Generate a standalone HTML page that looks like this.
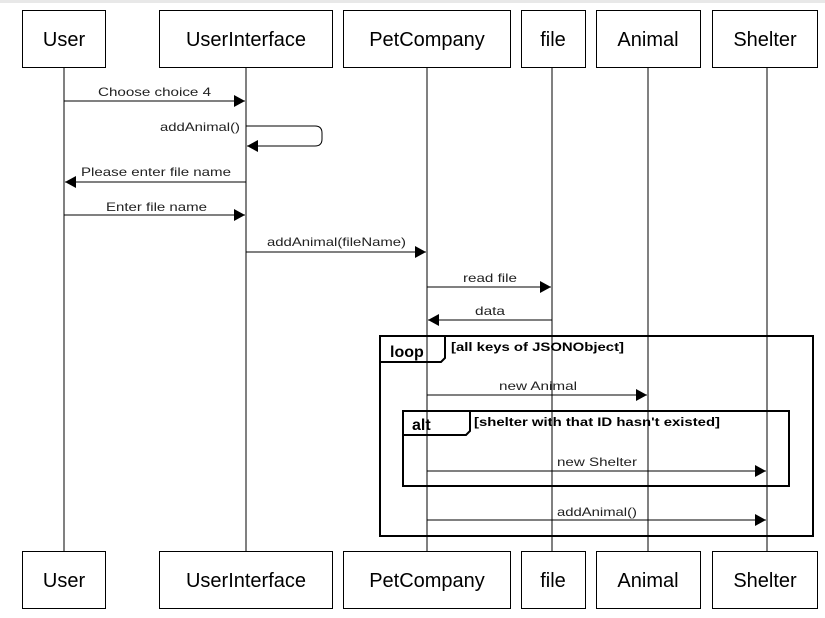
<!DOCTYPE html>
<html><head><style>
body{margin:0;background:#fff;}
svg{display:block;font-family:"Liberation Sans",sans-serif;}
</style></head><body>
<svg width="825" height="618" viewBox="0 0 825 618" xmlns="http://www.w3.org/2000/svg">
<defs><marker id="a" markerWidth="12" markerHeight="12" refX="11" refY="6" orient="auto" markerUnits="userSpaceOnUse"><path d="M0,0 L11,6 L0,12 Z" fill="#000"/></marker></defs>
<rect x="0" y="0" width="825" height="3" fill="#e8e8e8"/>
<g stroke="#000" stroke-width="1" fill="none">
<line x1="64" y1="67" x2="64" y2="552"/>
<line x1="246" y1="67" x2="246" y2="552"/>
<line x1="427" y1="67" x2="427" y2="552"/>
<line x1="552" y1="67" x2="552" y2="552"/>
<line x1="648" y1="67" x2="648" y2="552"/>
<line x1="767" y1="67" x2="767" y2="552"/>
</g>
<g stroke="#000" fill="#fff">
<rect x="22.5" y="10.5" width="83" height="57"/><rect x="159.5" y="10.5" width="173" height="57"/><rect x="343.5" y="10.5" width="167" height="57"/><rect x="521.5" y="10.5" width="64" height="57"/><rect x="596.5" y="10.5" width="104" height="57"/><rect x="712.5" y="10.5" width="105" height="57"/>
<rect x="22.5" y="551.5" width="83" height="57"/><rect x="159.5" y="551.5" width="173" height="57"/><rect x="343.5" y="551.5" width="167" height="57"/><rect x="521.5" y="551.5" width="64" height="57"/><rect x="596.5" y="551.5" width="104" height="57"/><rect x="712.5" y="551.5" width="105" height="57"/>
</g>
<g font-size="20" text-anchor="middle" fill="#000">
<text x="64" y="46">User</text><text x="246" y="46">UserInterface</text><text x="427" y="46">PetCompany</text><text x="553" y="46">file</text><text x="648" y="46">Animal</text><text x="765" y="46">Shelter</text>
<text x="64" y="587">User</text><text x="246" y="587">UserInterface</text><text x="427" y="587">PetCompany</text><text x="553" y="587">file</text><text x="648" y="587">Animal</text><text x="765" y="587">Shelter</text>
</g>
<g stroke="#000" fill="none" stroke-width="2">
<rect x="380" y="336" width="433" height="200"/>
<path d="M380,362 H441 L445,358 V336"/>
<rect x="403" y="411" width="386" height="75"/>
<path d="M403,435 H466 L470,431 V411"/>
</g>
<g font-size="12" font-weight="bold" fill="#000" lengthAdjust="spacingAndGlyphs">
<text x="390" y="357" font-size="16">loop</text><text x="451" y="351" textLength="173" lengthAdjust="spacingAndGlyphs">[all keys of JSONObject]</text>
<text x="412" y="430" font-size="16">alt</text><text x="474" y="426" textLength="246" lengthAdjust="spacingAndGlyphs">[shelter with that ID hasn't existed]</text>
</g>
<g stroke="#000" stroke-width="1" fill="none" marker-end="url(#a)">
<line x1="64" y1="101" x2="245" y2="101"/>
<path d="M246,126 H315 Q322,126 322,133 V139 Q322,146 315,146 H247"/>
<line x1="246" y1="182" x2="65" y2="182"/>
<line x1="64" y1="215" x2="245" y2="215"/>
<line x1="246" y1="252" x2="426" y2="252"/>
<line x1="427" y1="287" x2="551" y2="287"/>
<line x1="552" y1="320" x2="428" y2="320"/>
<line x1="427" y1="395" x2="647" y2="395"/>
<line x1="427" y1="471" x2="766" y2="471"/>
<line x1="427" y1="520" x2="766" y2="520"/>
</g>
<g font-size="12" fill="#222">
<text x="98" y="96" textLength="113" lengthAdjust="spacingAndGlyphs">Choose choice 4</text>
<text x="160" y="131" textLength="80" lengthAdjust="spacingAndGlyphs">addAnimal()</text>
<text x="81" y="176" textLength="150" lengthAdjust="spacingAndGlyphs">Please enter file name</text>
<text x="106" y="211" textLength="101" lengthAdjust="spacingAndGlyphs">Enter file name</text>
<text x="267" y="246" textLength="139" lengthAdjust="spacingAndGlyphs">addAnimal(fileName)</text>
<text x="463" y="282" textLength="54" lengthAdjust="spacingAndGlyphs">read file</text>
<text x="475" y="315" textLength="30" lengthAdjust="spacingAndGlyphs">data</text>
<text x="499" y="390" textLength="78" lengthAdjust="spacingAndGlyphs">new Animal</text>
<text x="557" y="466" textLength="80" lengthAdjust="spacingAndGlyphs">new Shelter</text>
<text x="557" y="516" textLength="80" lengthAdjust="spacingAndGlyphs">addAnimal()</text>
</g>
</svg>
</body></html>
